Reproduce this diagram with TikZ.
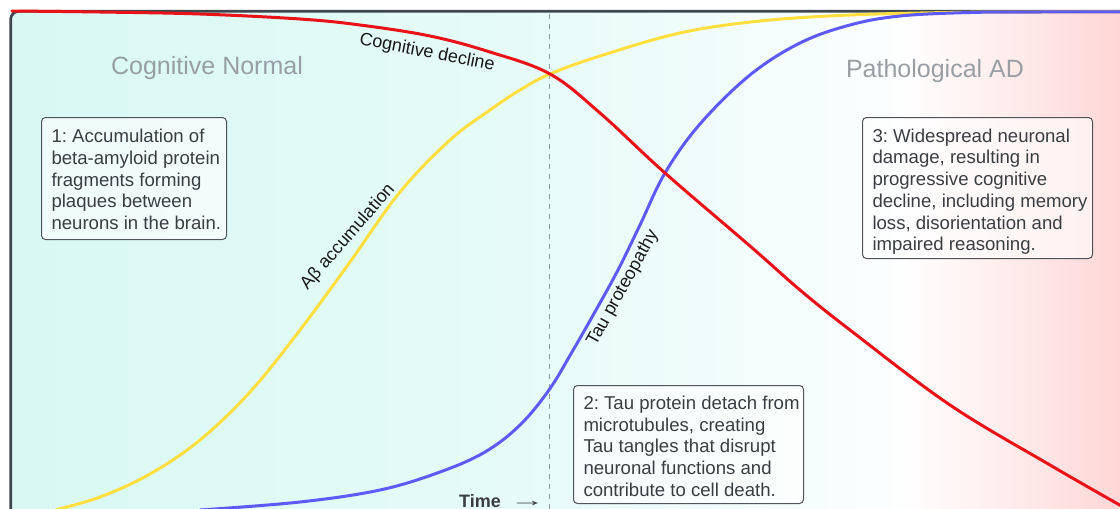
\documentclass[tikz,border=0pt]{standalone}
\usepackage{fontspec}
\setmainfont{Liberation Sans}
% colours of the three curves, the frame and the text
\definecolor{declinered}{RGB}{232,18,24}
\definecolor{abyellow}{RGB}{255,222,64}
\definecolor{taublue}{RGB}{94,90,248}
\definecolor{framegray}{RGB}{62,70,78}
\definecolor{phasegray}{RGB}{152,158,164}
\definecolor{boxline}{RGB}{80,84,90}
\definecolor{boxink}{RGB}{58,62,66}
\definecolor{dashgray}{RGB}{140,150,156}
% background bands
\definecolor{mintA}{RGB}{216,248,243}
\definecolor{mintB}{RGB}{231,251,248}
\definecolor{mintC}{RGB}{250,254,254}
\definecolor{pinkA}{RGB}{255,214,214}
% strut that puts the first baseline of a note at a fixed depth
\newcommand\boxlead[1]{\rule{0pt}{#1}}
% one unbreakable line of a note
\newcommand\noteline[1]{\mbox{#1}}
\begin{document}
\frenchspacing
\begin{tikzpicture}[x=1pt,y=-1pt,
  curve/.style={line width=3pt,line cap=round,line join=round},
  phase/.style={text=phasegray,font=\fontsize{25}{30}\selectfont,anchor=base},
  curvelabel/.style={text=black!90,font=\fontsize{18}{22}\selectfont,inner sep=0pt},
  note/.style={draw=boxline,line width=1pt,rounded corners=4pt,fill=white,
    fill opacity=0.6,text opacity=1,text=boxink,anchor=north west,
    inner xsep=10pt,inner ysep=0pt,font=\fontsize{18.6}{21.7}\selectfont}]
\useasboundingbox (0,0) rectangle (1120,509);

% shaded panel inside the frame
\begin{scope}
  \clip[rounded corners=8pt] (10.7,11.3) rectangle (1140,530);
  \shade[left color=mintA,right color=mintB] (0,0) rectangle (550.5,530);
  \shade[left color=mintB,right color=mintC] (550,0) rectangle (880.5,530);
  \shade[left color=mintC,right color=white] (880,0) rectangle (905.5,530);
  \shade[left color=white,right color=pinkA] (905,0) rectangle (1121,530);
\end{scope}
\draw[framegray,line width=2.7pt,rounded corners=8pt] (10.7,11.3) rectangle (1140,530);

% time marker
\draw[dashgray,line width=1.2pt,dash pattern=on 5pt off 5pt] (549.5,14) -- (549.5,509);

% curves
\draw[curve,abyellow] plot[smooth,tension=0.6] coordinates {
  (55,510) (100,497) (150,474) (200,440) (250,392) (300,330) (350,262)
  (400,192) (450,140) (490,110) (520,90) (550,74) (600,56) (680,33)
  (760,21) (850,15) (950,12.5) (1040,12) (1125,12)};
\draw[curve,taublue] plot[smooth,tension=0.6] coordinates {
  (200,510) (300,502) (380,490) (440,472) (485,452) (520,425) (549,390)
  (572,352) (596,310) (618,270) (640,225) (665,173) (700,124) (750,75)
  (800,43) (850,25) (900,16) (970,12.5) (1040,12) (1125,12)};
\draw[curve,declinered] plot[smooth,tension=0.6] coordinates {
  (12,11) (100,12) (200,14) (300,19) (360,25) (430,36) (490,52) (550,74)
  (600,113) (665,173) (750,246) (800,290) (850,330) (950,405) (1050,465)
  (1125,508)};

% curve names
\node[curvelabel,rotate=-11] (declinelbl) at (427,53) {Cognitive decline};
\node[curvelabel,rotate=49] (ablbl) at (348,237) {Aβ accumulation};
\node[curvelabel,rotate=61] (taulbl) at (623,288) {Tau proteopathy};

% phases
\node[phase] (normal) at (207,74) {Cognitive Normal};
\node[phase] (adlbl) at (935,77) {Pathological AD};

% notes
\node[note] (note1) at (41,117) {\parbox[c][122pt][t]{165pt}{
  \boxlead{25.3pt}\noteline{1: Accumulation of}\\
  \noteline{beta-amyloid protein}\\
  \noteline{fragments forming}\\
  \noteline{plaques between}\\
  \noteline{neurons in the brain.}}};
\node[note] (note2) at (573,385) {\parbox[c][118pt][t]{210pt}{
  \boxlead{24pt}\noteline{2: Tau protein detach from}\\
  \noteline{microtubules, creating}\\
  \noteline{Tau tangles that disrupt}\\
  \noteline{neuronal functions and}\\
  \noteline{contribute to cell death.}}};
\node[note] (note3) at (862,117) {\parbox[c][141pt][t]{210pt}{
  \boxlead{24.7pt}\noteline{3: Widespread neuronal}\\
  \noteline{damage, resulting in}\\
  \noteline{progressive cognitive}\\
  \noteline{decline, including memory}\\
  \noteline{loss, disorientation and}\\
  \noteline{impaired reasoning.}}};

% time axis caption
\node[anchor=base west,inner sep=0pt,text=boxink,font=\fontsize{18}{22}\selectfont]
  (timelbl) at (459,507) {\textbf{Time}\hspace{9pt}\raisebox{1pt}{\scalebox{1.95}[1]{→}}};
\end{tikzpicture}
\end{document}
